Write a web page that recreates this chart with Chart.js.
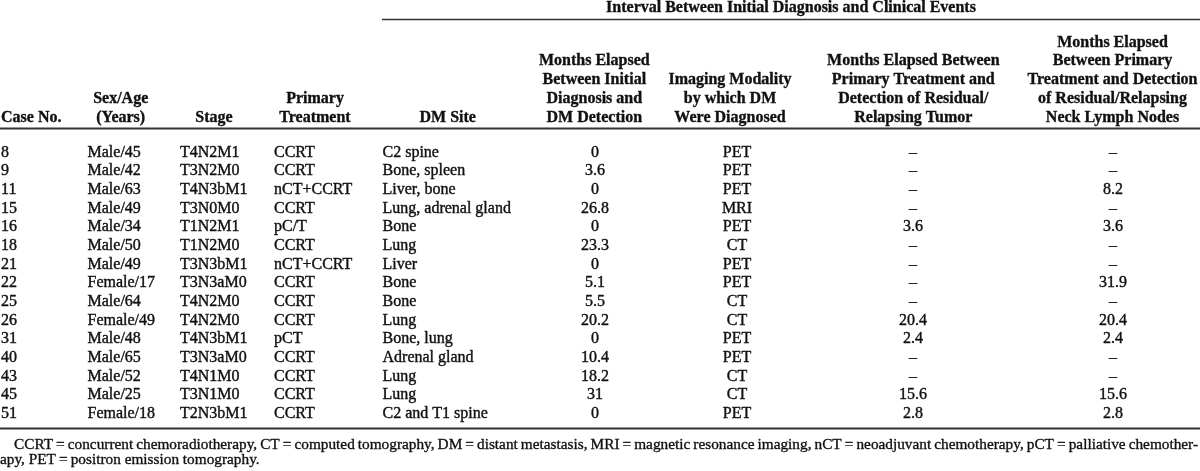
<!DOCTYPE html>
<html>
<head>
<meta charset="utf-8">
<script src="https://cdn.jsdelivr.net/npm/chart.js@4.4.0/dist/chart.umd.min.js"></script>
<style>
  html, body { margin: 0; padding: 0; background: #fff; }
  #wrap { width: 1200px; height: 471px; }
</style>
</head>
<body>
<div id="wrap"><canvas id="table" width="1200" height="471"></canvas></div>
<script>
// table rows, one entry per case
const caseNos = ['8', '9', '11', '15', '16', '18', '21', '22', '25', '26', '31', '40', '43', '45', '51'];
const sexAge = ['Male/45', 'Male/42', 'Male/63', 'Male/49', 'Male/34', 'Male/50', 'Male/49', 'Female/17',
  'Male/64', 'Female/49', 'Male/48', 'Male/65', 'Male/52', 'Male/25', 'Female/18'];
const stages = ['T4N2M1', 'T3N2M0', 'T4N3bM1', 'T3N0M0', 'T1N2M1', 'T1N2M0', 'T3N3bM1', 'T3N3aM0',
  'T4N2M0', 'T4N2M0', 'T4N3bM1', 'T3N3aM0', 'T4N1M0', 'T3N1M0', 'T2N3bM1'];
const treatments = ['CCRT', 'CCRT', 'nCT+CCRT', 'CCRT', 'pC/T', 'CCRT', 'nCT+CCRT', 'CCRT',
  'CCRT', 'CCRT', 'pCT', 'CCRT', 'CCRT', 'CCRT', 'CCRT'];
const dmSites = ['C2 spine', 'Bone, spleen', 'Liver, bone', 'Lung, adrenal gland', 'Bone', 'Lung', 'Liver', 'Bone',
  'Bone', 'Lung', 'Bone, lung', 'Adrenal gland', 'Lung', 'Lung', 'C2 and T1 spine'];
const dmMonths = [0, 3.6, 0, 26.8, 0, 23.3, 0, 5.1, 5.5, 20.2, 0, 10.4, 18.2, 31, 0];
const imaging = ['PET', 'PET', 'PET', 'MRI', 'PET', 'CT', 'PET', 'PET', 'CT', 'CT', 'PET', 'PET', 'CT', 'CT', 'PET'];
const residualTumor = [null, null, null, null, 3.6, null, null, null, null, 20.4, 2.4, null, null, 15.6, 2.8];
const neckNodes = [null, null, 8.2, null, 3.6, null, null, 31.9, null, 20.4, 2.4, null, null, 15.6, 2.8];

const spanTitle = 'Interval Between Initial Diagnosis and Clinical Events';
const headers = [
  ['Case No.'],
  ['Sex/Age', '(Years)'],
  ['Stage'],
  ['Primary', 'Treatment'],
  ['DM Site'],
  ['Months Elapsed', 'Between Initial', 'Diagnosis and', 'DM Detection'],
  ['Imaging Modality', 'by which DM', 'Were Diagnosed'],
  ['Months Elapsed Between', 'Primary Treatment and', 'Detection of Residual/', 'Relapsing Tumor'],
  ['Months Elapsed', 'Between Primary', 'Treatment and Detection', 'of Residual/Relapsing', 'Neck Lymph Nodes']
];
const footnote = [
  'CCRT\u2009=\u2009concurrent chemoradiotherapy, CT\u2009=\u2009computed tomography, DM\u2009=\u2009distant metastasis, MRI\u2009=\u2009magnetic resonance imaging, nCT\u2009=\u2009neoadjuvant chemotherapy, pCT\u2009=\u2009palliative chemother-',
  'apy, PET\u2009=\u2009positron emission tomography.'
];

const SERIF = '"Liberation Serif", "Times New Roman", serif';
const INK = '#111';
const RULE = '#333';

function cell(v) {
  return v === null || v === undefined ? '\u2013' : String(v);
}

// column layout: body anchor, body alignment, header centre
const columns = [
  { values: caseNos, x: 1, align: 'left', head: 1, headAlign: 'left' },
  { values: sexAge, x: 87.5, align: 'left', head: 120.7 },
  { values: stages, x: 180, align: 'left', head: 214 },
  { values: treatments, x: 274, align: 'left', head: 315 },
  { values: dmSites, x: 382.5, align: 'left', head: 447.7 },
  { values: dmMonths, x: 595, align: 'center', head: 594.3 },
  { values: imaging, x: 737, align: 'center', head: 730 },
  { values: residualTumor, x: 913, align: 'center', head: 913.3 },
  { values: neckNodes, x: 1113, align: 'center', head: 1112.5 }
];

function hline(ctx, x0, x1, y, w) {
  ctx.save();
  ctx.strokeStyle = RULE;
  ctx.lineWidth = w;
  ctx.beginPath();
  ctx.moveTo(x0, y);
  ctx.lineTo(x1, y);
  ctx.stroke();
  ctx.restore();
}

// scanned print looks heavier than crisp canvas text, so add a hairline stroke
function text(ctx, s, x, y, weight) {
  ctx.fillText(s, x, y);
  ctx.lineWidth = weight;
  ctx.strokeText(s, x, y);
}

function justified(ctx, s, x0, x1, y, weight) {
  const words = s.split(' ');
  const widths = words.map((w) => ctx.measureText(w).width);
  const total = widths.reduce((a, b) => a + b, 0);
  const gap = (x1 - x0 - total) / (words.length - 1);
  let x = x0;
  ctx.textAlign = 'left';
  words.forEach((w, i) => {
    text(ctx, w, x, y, weight);
    x += widths[i] + gap;
  });
}

const tablePlugin = {
  id: 'tableText',
  afterDraw(chart) {
    const { ctx, scales } = chart;
    const xs = scales.x;
    const ys = scales.y;
    const px = (v) => xs.getPixelForValue(v);
    ctx.save();
    ctx.fillStyle = INK;
    ctx.strokeStyle = INK;
    ctx.lineJoin = 'round';
    ctx.textBaseline = 'alphabetic';

    // spanning header + its rule
    ctx.font = `bold 16px ${SERIF}`;
    ctx.textAlign = 'center';
    text(ctx, spanTitle, px(791), 12, 0.35);
    hline(ctx, px(382), px(1200), 19.5, 1.4);

    // column headers, bottom aligned
    const headBase = 121.7;
    const headStep = 18.8;
    columns.forEach((col, c) => {
      const lines = headers[c];
      ctx.textAlign = col.headAlign || 'center';
      lines.forEach((line, k) => {
        const y = headBase - (lines.length - 1 - k) * headStep;
        text(ctx, line, px(col.head), y, 0.35);
      });
    });
    hline(ctx, px(0), px(1200), 128.5, 2);

    // body rows positioned by the category scale
    ctx.font = `16px ${SERIF}`;
    caseNos.forEach((_, i) => {
      const y = ys.getPixelForValue(i) + 5.2;
      columns.forEach((col) => {
        ctx.textAlign = col.align;
        text(ctx, cell(col.values[i]), px(col.x), y, 0.4);
      });
    });
    hline(ctx, px(0), px(1200), 428.5, 2);

    // footnote
    ctx.font = `15.3px ${SERIF}`;
    justified(ctx, footnote[0], 14, 1198, 449.3, 0.35);
    ctx.textAlign = 'left';
    text(ctx, footnote[1], 0, 463.5, 0.35);
    ctx.restore();
  }
};

new Chart(document.getElementById('table'), {
  type: 'line',
  data: {
    labels: caseNos,
    datasets: [{
      label: 'Months to DM detection',
      data: dmMonths,
      showLine: false,
      pointRadius: 0,
      pointHoverRadius: 0
    }]
  },
  options: {
    indexAxis: 'y',
    responsive: false,
    devicePixelRatio: 1,
    animation: false,
    events: [],
    layout: { padding: { top: 151.5, bottom: 471 - 412.6, left: 0, right: 0 } },
    plugins: { legend: { display: false }, tooltip: { enabled: false } },
    scales: {
      x: { type: 'linear', min: 0, max: 1200, display: false },
      y: { type: 'category', offset: false, display: false }
    }
  },
  plugins: [tablePlugin]
});
</script>
</body>
</html>
